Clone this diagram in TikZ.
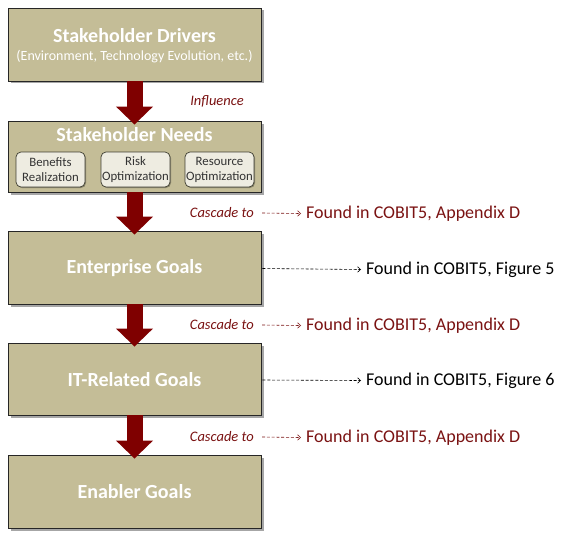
\documentclass[tikz,border=0pt]{standalone}
\usepackage{fontspec}
\setmainfont{Carlito}
\usetikzlibrary{arrows.meta,shadows,calc}
\definecolor{boxfill}{HTML}{C4BD97}
\definecolor{boxline}{HTML}{262626}
\definecolor{arrowred}{HTML}{7F0000}
\definecolor{txtred}{HTML}{7A1212}
\definecolor{innerfill}{HTML}{EEECE1}
\definecolor{innerline}{HTML}{3F3F32}
\tikzset{
  mainbox/.style={draw=boxline,line width=0.9pt,fill=boxfill,minimum width=253pt,inner sep=0pt,
    drop shadow={shadow xshift=2.5pt,shadow yshift=-2.5pt,fill=black,opacity=0.35}},
  innerbox/.style={draw=innerline,line width=0.7pt,fill=innerfill,rounded corners=5pt,minimum width=69pt,
    minimum height=35pt,inner sep=0pt,align=center,font=\fontsize{12.8}{15}\selectfont,text=black!80,
    drop shadow={shadow xshift=1pt,shadow yshift=-1pt,fill=black,opacity=0.3}},
  titletext/.style={text=white,font=\fontsize{20}{23}\selectfont\bfseries},
  bigarrow/.style={draw=arrowred,line width=16pt,-{Triangle[width=36pt,length=18pt]},arrowred},
  labeltext/.style={text=txtred,font=\fontsize{14.5}{17}\selectfont\itshape},
  foundred/.style={text=txtred,font=\fontsize{18}{21}\selectfont,anchor=west,inner sep=0pt},
  foundblack/.style={text=black,font=\fontsize{18}{21}\selectfont,anchor=west,inner sep=0pt},
  dasharrow/.style={dash pattern=on 3pt off 1.8pt,line width=0.6pt,-{Straight Barb[length=3pt,width=5.5pt]}},
}
\begin{document}
\begin{tikzpicture}[x=1pt,y=-1pt]
\useasboundingbox (0,0) rectangle (577,532);
% main boxes
\node[mainbox,minimum height=73pt] (b1) at (134.5,44.5) {};
\node[mainbox,minimum height=71pt] (b2) at (134.5,156.5) {};
\node[mainbox,minimum height=73pt] (b3) at (134.5,267.5) {};
\node[mainbox,minimum height=72pt] (b4) at (134.5,379) {};
\node[mainbox,minimum height=73pt] (b5) at (134.5,491.5) {};
% titles
\node[titletext] (t1) at (134.5,36) {Stakeholder Drivers};
\node[text=white,font=\fontsize{14}{16}\selectfont] (t1s) at (134.5,57) {(Environment, Technology Evolution, etc.)};
\node[titletext] (t2) at (134.5,135) {Stakeholder Needs};
\node[titletext] (t3) at (134.5,268) {Enterprise Goals};
\node[titletext] (t4) at (134.5,380) {IT-Related Goals};
\node[titletext] (t5) at (134.5,492) {Enabler Goals};
% inner boxes
\node[innerbox] (n1) at (50.5,169.5) {Benefits\\Realization};
\node[innerbox] (n2) at (135.5,169.5) {Risk\\Optimization};
\node[innerbox] (n3) at (219.5,169.5) {Resource\\Optimization};
% big arrows
\draw[bigarrow] (b1.south) -- ($(b2.north)+(0,4)$);
\draw[bigarrow] (b2.south) -- ($(b3.north)+(0,4)$);
\draw[bigarrow] (b3.south) -- ($(b4.north)+(0,4)$);
\draw[bigarrow] (b4.south) -- ($(b5.north)+(0,4)$);
% labels
\node[labeltext] (l1) at (217,101) {Influence};
\node[labeltext,anchor=east,inner sep=0pt] (c1) at (254,213) {Cascade to};
\node[labeltext,anchor=east,inner sep=0pt] (c2) at (254,325) {Cascade to};
\node[labeltext,anchor=east,inner sep=0pt] (c3) at (254,437) {Cascade to};
\node[foundred] (f1) at (306,213.5) {Found in COBIT5, Appendix D};
\node[foundred] (f2) at (306,325.5) {Found in COBIT5, Appendix D};
\node[foundred] (f3) at (306,437.5) {Found in COBIT5, Appendix D};
\node[foundblack] (g1) at (366,269.5) {Found in COBIT5, Figure 5};
\node[foundblack] (g2) at (366,380.5) {Found in COBIT5, Figure 6};
% dashed arrows
\draw[dasharrow,draw=txtred] ($(c1.east)+(8,0)$) -- ($(f1.west)+(-5,0)$);
\draw[dasharrow,draw=txtred] ($(c2.east)+(8,0)$) -- ($(f2.west)+(-5,0)$);
\draw[dasharrow,draw=txtred] ($(c3.east)+(8,0)$) -- ($(f3.west)+(-5,0)$);
\draw[dasharrow,draw=black] ($(b3.east)+(1,1)$) -- ($(g1.west)+(-5,0)$);
\draw[dasharrow,draw=black] ($(b4.east)+(1,1)$) -- ($(g2.west)+(-5,0)$);
\end{tikzpicture}
\end{document}
